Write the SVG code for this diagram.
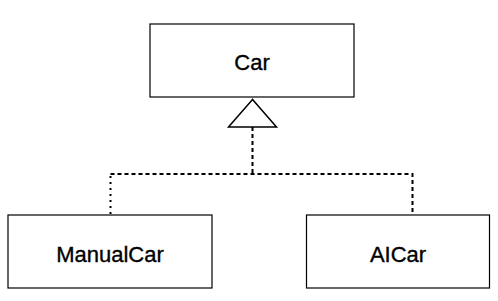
<svg xmlns="http://www.w3.org/2000/svg" width="498" height="301" viewBox="0 0 498 301">
<style>
.node rect{fill:#fff;stroke:#000;stroke-width:1.2}
.node text{font-family:"Liberation Sans",Arial,sans-serif;font-size:22px;fill:#000;stroke:#000;stroke-width:0.35;text-anchor:middle}
.dash{fill:none;stroke:#000;stroke-width:2;stroke-dasharray:4 3}
.dot{fill:none;stroke:#000;stroke-width:2;stroke-dasharray:2 4}
</style>
<rect width="498" height="301" fill="#fff"/>
<g id="connectors">
<path class="dash" d="M252.5 127 V174"/>
<path class="dash" d="M110.5 174 H412.5 V215"/>
<path class="dot" d="M110.5 176 V215"/>
<polygon points="252.5,99.5 228.5,127 276.5,127" fill="#fff" stroke="#000" stroke-width="1.5"/>
</g>
<g id="car" class="node">
<rect x="150" y="24" width="204" height="73"/>
<text x="252" y="70">Car</text>
</g>
<g id="manualcar" class="node">
<rect x="8" y="215" width="204" height="73"/>
<text x="110" y="262">ManualCar</text>
</g>
<g id="aicar" class="node">
<rect x="306.5" y="215" width="183" height="73"/>
<text x="398" y="262">AICar</text>
</g>
</svg>
